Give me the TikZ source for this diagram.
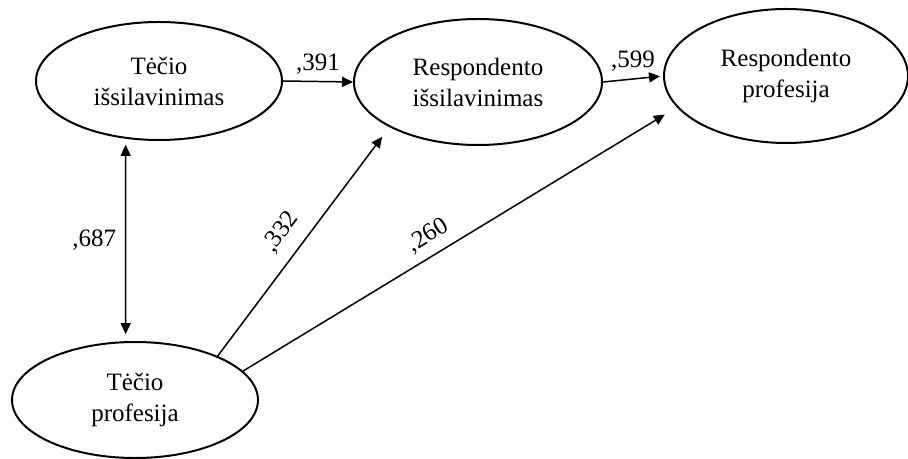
\documentclass[tikz,border=0pt]{standalone}
\usepackage{fontspec}
\setmainfont{Liberation Serif}
\usetikzlibrary{shapes.geometric, arrows.meta, positioning}

\begin{document}
\begin{tikzpicture}[
    x=0.5pt, y=-0.5pt,
    var/.style={ellipse, draw, line width=1pt, minimum width=123pt, minimum height=59pt, inner sep=0pt, align=center, font=\fontsize{12.5}{15.5}\selectfont},
    path/.style={-{Triangle[length=5.5pt,width=5pt]}, line width=0.75pt},
    coef/.style={font=\fontsize{12.5}{15}\selectfont}
]
\useasboundingbox (0,0) rectangle (908,459);

\node[var] (ti) at (159,81) {Tėčio\\išsilavinimas};
\node[var, minimum width=124pt, minimum height=63pt] (ri) at (478,82) {Respondento\\išsilavinimas};
\node[var, minimum width=122pt, minimum height=67pt] (rp) at (786,76) {Respondento\\profesija};
\node[var, minimum height=58pt] (tp) at (135,400) {Tėčio\\profesija};

\draw[path] (ti.east) -- node[coef, above] {,391} (ri.west);
\draw[path, shorten >=1.5pt] (ri.east) -- node[coef, above] {,599} (rp.west);
\draw[path, {Triangle[length=5.5pt,width=5pt]}-{Triangle[length=5.5pt,width=5pt]}, shorten <=3pt, shorten >=3.5pt] (ti.240) -- node[coef, left, xshift=-1pt] {,687} (tp.99);
\draw[path, shorten >=6pt] (tp.28) -- node[coef, above, sloped, pos=0.48, yshift=3pt] {,332} (ri.207);
\draw[path, shorten >=7pt] (tp.15) -- node[coef, above, sloped, pos=0.45, yshift=1pt] {,260} (rp.196);

\end{tikzpicture}
\end{document}
